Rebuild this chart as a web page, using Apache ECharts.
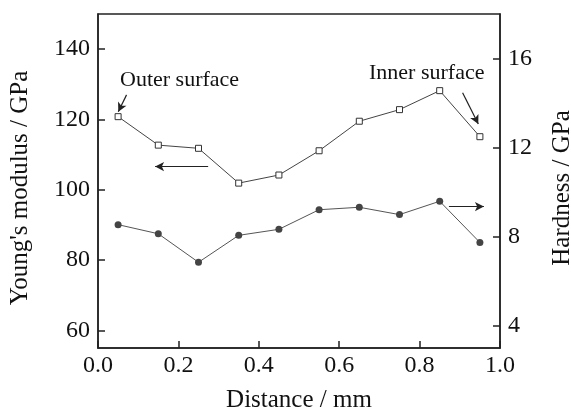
<!DOCTYPE html>
<html>
<head>
<meta charset="utf-8">
<script src="https://cdn.jsdelivr.net/npm/echarts@6/dist/echarts.min.js"></script>
<style>html,body{margin:0;padding:0;background:#fff;}#c{width:571px;height:410px;}</style>
</head>
<body>
<div id="c"></div>
<script>
const distance = [0.05, 0.15, 0.25, 0.35, 0.45, 0.55, 0.65, 0.75, 0.85, 0.95];
const modulus = [120.8, 112.7, 111.8, 101.9, 104.2, 111.1, 119.5, 122.8, 128.2, 115.1];
const hardness = [8.54, 8.13, 6.85, 8.06, 8.33, 9.21, 9.32, 8.99, 9.59, 7.74];
const leftTicks = [60, 80, 100, 120, 140];
const rightTicks = [4, 8, 12, 16];

const FONT = '"Liberation Serif", "Times New Roman", serif';
const chart = echarts.init(document.getElementById('c'));
chart.setOption({
  animation: false,
  backgroundColor: '#fff',
  grid: { left: 98, right: 71, top: 14, bottom: 62, outerBoundsMode: 'none', containLabel: false, show: true, borderColor: '#222', borderWidth: 1.5, backgroundColor: 'transparent' },
  xAxis: {
    type: 'value', min: 0, max: 1, interval: 0.2,
    name: 'Distance / mm', nameLocation: 'middle', nameGap: 40,
    nameTextStyle: { fontFamily: FONT, fontSize: 25, color: '#111' },
    axisLine: { lineStyle: { color: '#222', width: 1.5 } },
    axisTick: { inside: true, length: 7, lineStyle: { color: '#222', width: 1.5 } },
    axisLabel: { fontFamily: FONT, fontSize: 24, color: '#111', margin: 6, formatter: v => v.toFixed(1) },
    splitLine: { show: false }
  },
  yAxis: [{
    type: 'value', min: 55, max: 150, position: 'left',
    name: "Young's modulus / GPa", nameLocation: 'middle', nameGap: 65,
    nameTextStyle: { fontFamily: FONT, fontSize: 25, color: '#111', padding: [0, 14, 0, 0] },
    axisLine: { show: true, lineStyle: { color: '#222', width: 1.5 } },
    axisTick: { inside: true, length: 7, customValues: leftTicks, lineStyle: { color: '#222', width: 1.5 } },
    axisLabel: { fontFamily: FONT, fontSize: 24, color: '#111', margin: 8, customValues: leftTicks },
    splitLine: { show: false }
  }, {
    type: 'value', min: 3, max: 18, position: 'right',
    name: 'Hardness / GPa', nameLocation: 'middle', nameGap: 50, nameRotate: 90,
    nameTextStyle: { fontFamily: FONT, fontSize: 25, color: '#111', padding: [0, 14, 0, 0] },
    axisLine: { show: true, lineStyle: { color: '#222', width: 1.5 } },
    axisTick: { inside: true, length: 7, customValues: rightTicks, lineStyle: { color: '#222', width: 1.5 } },
    axisLabel: { fontFamily: FONT, fontSize: 24, color: '#111', margin: 8, customValues: rightTicks },
    splitLine: { show: false }
  }],
  series: [{
    type: 'line', yAxisIndex: 0,
    data: distance.map((d, i) => [d, modulus[i]]),
    symbol: 'rect', symbolSize: 6,
    lineStyle: { color: '#444', width: 1 },
    itemStyle: { color: '#fff', borderColor: '#333', borderWidth: 1 },
    markLine: {
      silent: true, symbol: ['none', 'arrow'], symbolSize: [7, 9],
      label: { show: false },
      lineStyle: { color: '#222', width: 1.2, type: 'solid' },
      data: [
        [{ coord: [0.274, 106.6] }, { coord: [0.142, 106.6] }],
        [{ coord: [0.071, 127.0] }, { coord: [0.0505, 122.2] }],
        [{ coord: [0.907, 127.6] }, { coord: [0.946, 118.7] }]
      ]
    }
  }, {
    type: 'line', yAxisIndex: 1,
    data: distance.map((d, i) => [d, hardness[i]]),
    symbol: 'circle', symbolSize: 7,
    lineStyle: { color: '#555', width: 1 },
    itemStyle: { color: '#444' },
    markLine: {
      silent: true, symbol: ['none', 'arrow'], symbolSize: [7, 9],
      label: { show: false },
      lineStyle: { color: '#222', width: 1.2, type: 'solid' },
      data: [
        [{ coord: [0.873, 9.35] }, { coord: [0.960, 9.35] }]
      ]
    }
  }],
  graphic: [
    { type: 'text', x: 120, y: 80, style: { text: 'Outer surface', fontFamily: FONT, fontSize: 22, fill: '#111', align: 'left', verticalAlign: 'middle' } },
    { type: 'text', x: 369, y: 73, style: { text: 'Inner surface', fontFamily: FONT, fontSize: 22, fill: '#111', align: 'left', verticalAlign: 'middle' } }
  ]
});
</script>
</body>
</html>
